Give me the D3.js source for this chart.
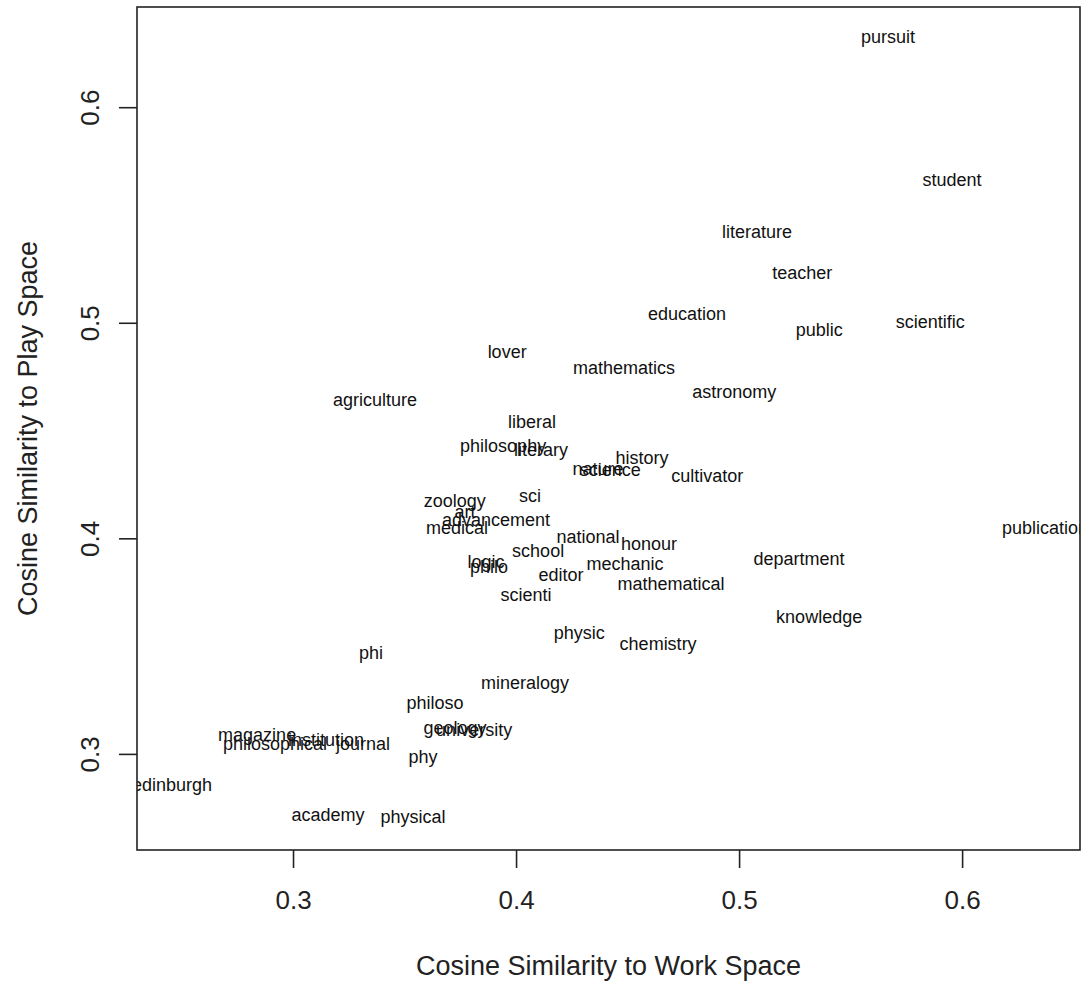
<!DOCTYPE html>
<html>
<head>
<meta charset="utf-8">
<script src="https://cdn.jsdelivr.net/npm/d3@7"></script>
<style>
  html, body { margin: 0; padding: 0; background: #fff; }
  svg { display: block; }
  text { font-family: "Liberation Sans", Arial, sans-serif; }
</style>
</head>
<body>
<svg id="chart" width="1081" height="983"></svg>
<script>
// ---- data ----
const words = [
  "pursuit","student","literature","teacher","education","public","scientific",
  "lover","mathematics","astronomy","agriculture","liberal","philosophy","literary",
  "history","nature","science","cultivator","sci","zoology","art","advancement","medical",
  "national","honour","school","department","logic","philo","mechanic","editor",
  "mathematical","scienti","knowledge","physic","chemistry","phi","mineralogy","philoso",
  "geology","university","magazine","philosophical","institution","journal","phy",
  "edinburgh","academy","physical","publication"
];
const workSim = [
  0.5668, 0.5955, 0.5080, 0.5283, 0.4767, 0.5359, 0.5857,
  0.3960, 0.4484, 0.4978, 0.3368, 0.4072, 0.3942, 0.4112,
  0.4565, 0.4368, 0.4422, 0.4857, 0.4063, 0.3725, 0.3771, 0.3910, 0.3735,
  0.4323, 0.4596, 0.4099, 0.5269, 0.3865, 0.3879, 0.4489, 0.4202,
  0.4695, 0.4045, 0.5359, 0.4283, 0.4637, 0.3350, 0.4040, 0.3637,
  0.3726, 0.3812, 0.2839, 0.2919, 0.3148, 0.3314, 0.3583,
  0.2457, 0.3157, 0.3538, 0.6372
];
const playSim = [
  0.6320, 0.5657, 0.5415, 0.5225, 0.5035, 0.4961, 0.4998,
  0.4859, 0.4785, 0.4674, 0.4637, 0.4535, 0.4423, 0.4405,
  0.4368, 0.4316, 0.4312, 0.4284, 0.4191, 0.4164, 0.4117, 0.4080, 0.4043,
  0.3997, 0.3969, 0.3932, 0.3895, 0.3885, 0.3858, 0.3876, 0.3821,
  0.3783, 0.3728, 0.3626, 0.3552, 0.3505, 0.3459, 0.3320, 0.3227,
  0.3111, 0.3102, 0.3083, 0.3037, 0.3056, 0.3037, 0.2977,
  0.2847, 0.2708, 0.2699, 0.4043
];
const xTicks = [0.3, 0.4, 0.5, 0.6];
const yTicks = [0.3, 0.4, 0.5, 0.6];
const xTitle = "Cosine Similarity to Work Space";
const yTitle = "Cosine Similarity to Play Space";

// ---- layout ----
const plot = { left: 137, right: 1080, top: 7, bottom: 850 };
const svg = d3.select("#chart");

function padded(vals) {
  const [a, b] = d3.extent(vals);
  const p = (b - a) * 0.04;
  return [a - p, b + p];
}
const x = d3.scaleLinear().domain(padded(workSim)).range([plot.left, plot.right]);
const y = d3.scaleLinear().domain(padded(playSim)).range([plot.bottom, plot.top]);

svg.append("defs").append("clipPath").attr("id", "plotclip")
  .append("rect")
  .attr("x", plot.left).attr("y", plot.top)
  .attr("width", plot.right - plot.left).attr("height", plot.bottom - plot.top);

// labels
const pts = words.map((w, i) => ({ w, vx: workSim[i], vy: playSim[i] }));
svg.append("g").attr("clip-path", "url(#plotclip)")
  .selectAll("text").data(pts).enter().append("text")
  .attr("x", d => x(d.vx))
  .attr("y", d => y(d.vy))
  .attr("dy", "0.25em")
  .attr("text-anchor", "middle")
  .attr("font-size", 18)
  .attr("fill", "#111")
  .text(d => d.w);

// box
svg.append("rect")
  .attr("x", plot.left).attr("y", plot.top)
  .attr("width", plot.right - plot.left).attr("height", plot.bottom - plot.top)
  .attr("fill", "none").attr("stroke", "#222").attr("stroke-width", 1.6);

// x axis
const xa = svg.append("g").attr("transform", `translate(0,${plot.bottom})`)
  .call(d3.axisBottom(x).tickValues(xTicks).tickSize(18).tickPadding(23).tickFormat(d3.format(".1f")));
xa.select(".domain").remove();
xa.selectAll(".tick line").attr("stroke", "#222").attr("stroke-width", 1.6);
xa.selectAll(".tick text").attr("font-size", 26).attr("fill", "#222")
  .attr("font-family", "Liberation Sans, Arial, sans-serif");

// y axis
const ya = svg.append("g").attr("transform", `translate(${plot.left},0)`)
  .call(d3.axisLeft(y).tickValues(yTicks).tickSize(18).tickFormat(d3.format(".1f")));
ya.select(".domain").remove();
ya.selectAll(".tick line").attr("stroke", "#222").attr("stroke-width", 1.6);
ya.selectAll(".tick text")
  .attr("font-size", 26).attr("fill", "#222")
  .attr("font-family", "Liberation Sans, Arial, sans-serif")
  .attr("transform", "rotate(-90)")
  .attr("x", 0).attr("y", -38).attr("dy", 0)
  .attr("text-anchor", "middle");

// titles
svg.append("text")
  .attr("x", (plot.left + plot.right) / 2).attr("y", 975)
  .attr("text-anchor", "middle").attr("font-size", 27).attr("fill", "#222")
  .text(xTitle);
svg.append("text")
  .attr("transform", `translate(37,${(plot.top + plot.bottom) / 2}) rotate(-90)`)
  .attr("text-anchor", "middle").attr("font-size", 27).attr("fill", "#222")
  .text(yTitle);
</script>
</body>
</html>
